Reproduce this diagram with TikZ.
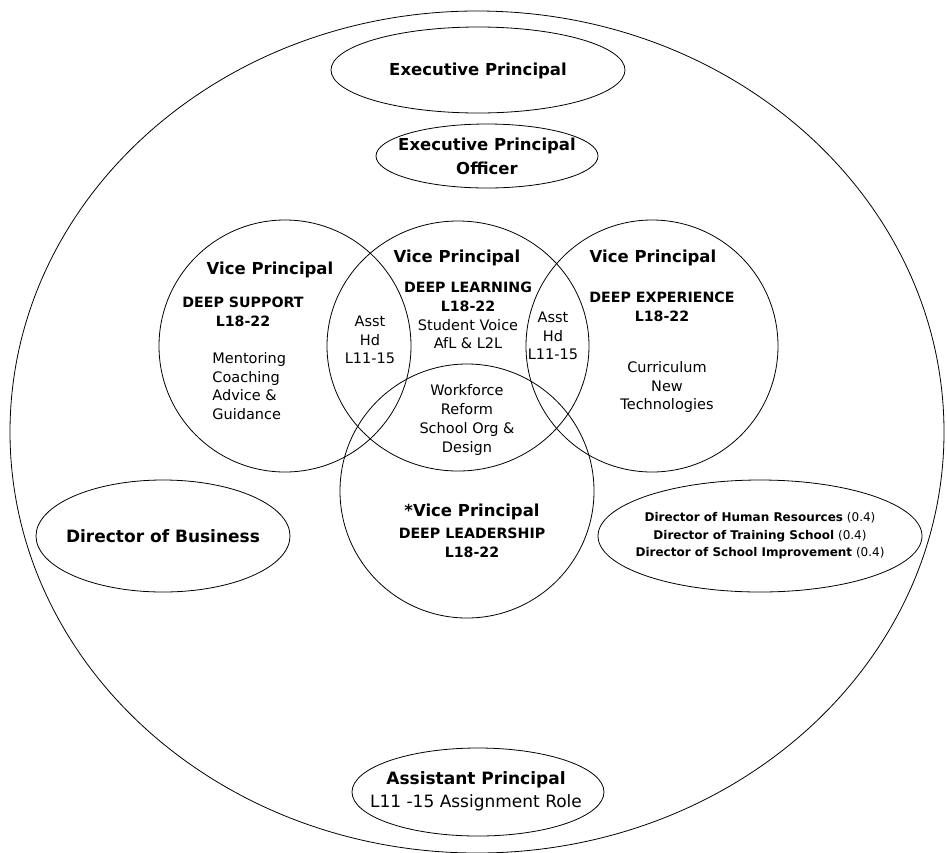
\documentclass[tikz,border=0pt]{standalone}
\usepackage{fontspec}
\setmainfont{DejaVu Sans}

\begin{document}
\begin{tikzpicture}[x=1pt,y=-1pt,line width=0.8pt,every node/.style={inner sep=0pt},
  title/.style={font=\bfseries\fontsize{16.5}{24}\selectfont,align=center},
  caps/.style={font=\bfseries\fontsize{14.2}{19.5}\selectfont,align=center},
  body/.style={font=\fontsize{14.5}{18.8}\selectfont,align=center},
  small/.style={font=\fontsize{12}{17.5}\selectfont,align=center}]
\useasboundingbox (0,0) rectangle (947,852);
% outer boundary and role outlines
\draw (477,432) ellipse [x radius=467pt,y radius=421pt];
\draw (478,70) ellipse [x radius=147pt,y radius=43pt];
\draw (487,156) ellipse [x radius=111pt,y radius=32pt];
\draw (285,346) circle [radius=126pt];
\draw (458,346) ellipse [x radius=131pt,y radius=125pt];
\draw (652,346) circle [radius=126pt];
\draw (467,491) circle [radius=127pt];
\draw (163,536) ellipse [x radius=127pt,y radius=56pt];
\draw (760,536) ellipse [x radius=162pt,y radius=56pt];
\draw (478,792) ellipse [x radius=126pt,y radius=44pt];
% texts
\node[title] (exec) at (478,71) {Executive Principal};
\node[title] (officer) at (487,156) {Executive Principal\\Officer};
\node[title] (vpsup) at (270,270) {Vice Principal};
\node[caps] (support) at (243,312) {DEEP SUPPORT\\L18-22};
\node[body,align=left,anchor=west] (mentor) at (212,386) {Mentoring\\Coaching\\Advice \&\\Guidance};
\node[title] (vplearn) at (457,258) {Vice Principal};
\node[caps] (learning) at (468,297) {DEEP LEARNING\\L18-22};
\node[body] (voice) at (468,334) {Student Voice\\AfL \& L2L};
\node[body] (asstleft) at (370,340) {Asst\\Hd\\L11-15};
\node[body] (asstright) at (553,336) {Asst\\Hd\\L11-15};
\node[body] (workforce) at (467,420) {Workforce\\Reform\\School Org \&\\Design};
\node[title] (vpexp) at (653,258) {Vice Principal};
\node[caps] (experience) at (662,307) {DEEP EXPERIENCE\\L18-22};
\node[body] (curric) at (667,387) {Curriculum\\New\\Technologies};
\node[title] (vplead) at (472,512) {*Vice Principal};
\node[caps] (leadership) at (472,543) {DEEP LEADERSHIP\\L18-22};
\node[title,font=\bfseries\fontsize{17}{20}\selectfont] (business) at (163,536) {Director of Business};
\node[small] (directors) at (760,536) {\textbf{Director of Human Resources} (0.4)\\\textbf{Director of Training School} (0.4)\\\textbf{Director of School Improvement} (0.4)};
\node[align=center,font=\fontsize{17}{23}\selectfont] (asstprin) at (476,791) {\textbf{Assistant Principal}\\L11 -15 Assignment Role};
\end{tikzpicture}
\end{document}
